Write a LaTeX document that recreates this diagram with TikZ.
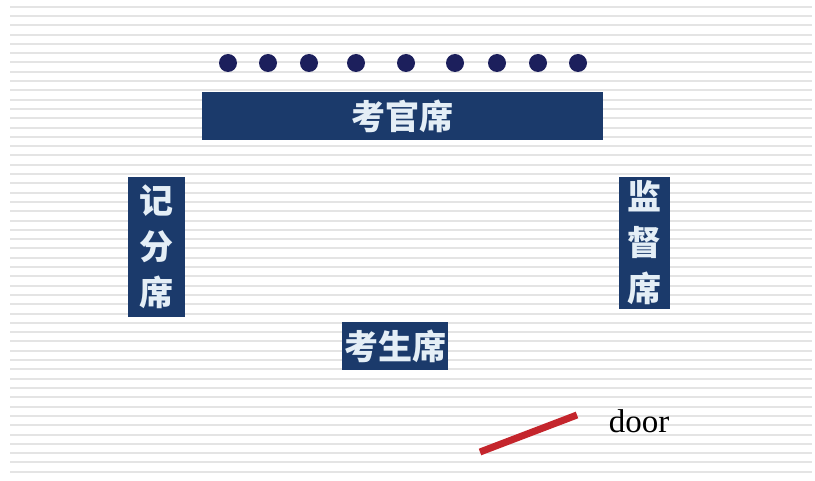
\documentclass[tikz,border=0pt]{standalone}
\usepackage{fontspec}
\usepackage{tikz}
\newfontfamily\cjk{Noto Sans CJK SC}
\newfontfamily\doorfont{Liberation Serif}
\definecolor{seatblue}{HTML}{1B3A6B}
\definecolor{seattext}{HTML}{E4EEF6}
\definecolor{dotblue}{HTML}{1C1F5C}
\definecolor{stripe}{HTML}{E4E4E4}
\definecolor{doorred}{HTML}{C4252C}
\tikzset{
    seat/.style={rectangle, fill=seatblue, text=seattext, inner sep=0pt,
    	font=\cjk\bfseries\fontsize{34}{46}\selectfont, align=center}
}
\tikzset{
    chair/.style={circle, fill=dotblue, minimum size=18pt, inner sep=0pt}
}

\begin{document}
\begin{tikzpicture}[x=1pt, y=-1pt]
  \useasboundingbox (0,0) rectangle (815,481);
  \fill[white] (0,0) rectangle (815,481);
  \foreach \k in {0,...,50}
    \draw[stripe, line width=2pt] (10,6.7+9.3*\k) -- (812,6.7+9.3*\k);

  \foreach \i/\x in {1/228,2/268,3/309,4/356,5/406,6/455,7/497,8/538,9/578}
    \node (c\i) [chair] at (\x,63) {};

  \node (examiner) [seat, minimum width=401pt, minimum height=48pt] at (402.5,116) {考官席};
  \node (scorer) [seat, minimum width=57pt, minimum height=140pt] at (156.5,247) {记\\分\\席};
  \node (monitor) [seat, minimum width=51pt, minimum height=132pt] at (644.5,243) {监\\督\\席};
  \node (student) [seat, minimum width=106pt, minimum height=48pt] at (395,346) {考生席};

  \coordinate (doorA) at (480,452);
  \coordinate (doorB) at (577,415);
  \draw[doorred, line width=7pt] (doorA) -- (doorB);
  \node (doorlabel) [font=\doorfont\fontsize{33}{36}\selectfont, inner sep=0pt] at (639,421) {door};
\end{tikzpicture}
\end{document}
